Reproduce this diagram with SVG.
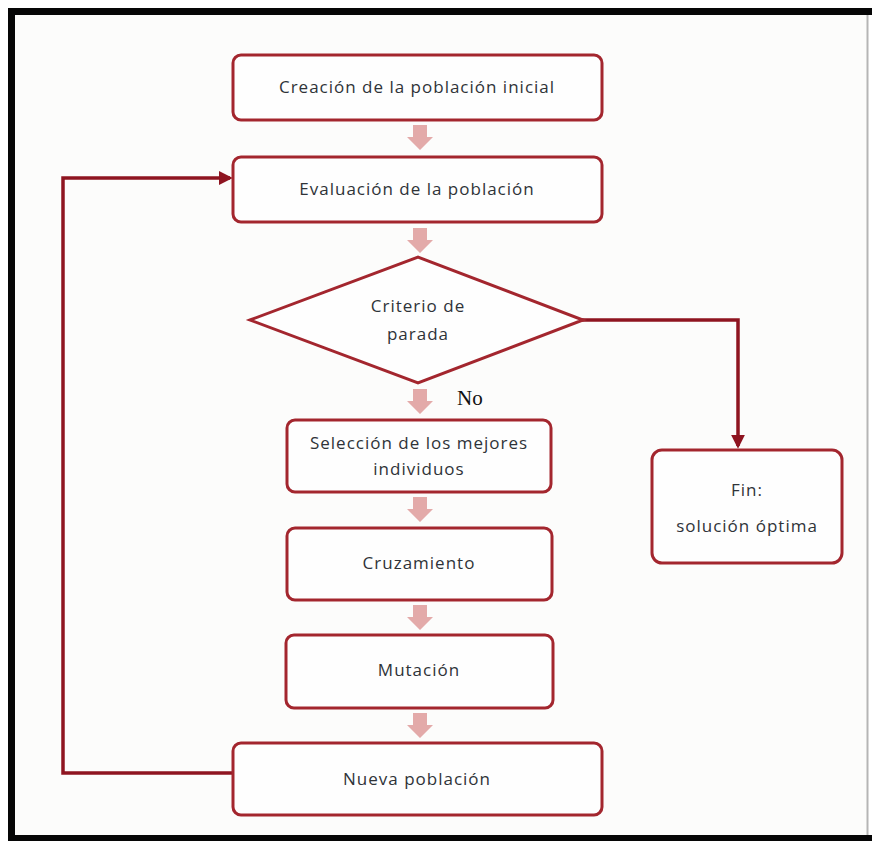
<svg xmlns="http://www.w3.org/2000/svg" width="872" height="841" viewBox="0 0 872 841">
  <defs>
    <style>
      .box { fill: #fefefe; stroke: #a3262e; stroke-width: 3; }
      .lbl { font-family: "Open Sans", "Noto Sans", "Liberation Sans", sans-serif; font-size: 17px; letter-spacing: 1px; fill: #2f3338; text-anchor: middle; }
      .flow { fill: #e3aaa9; }
      .wire { fill: none; stroke: #8e1420; stroke-width: 3.5; }
      .no { font-family: "Liberation Serif", serif; font-size: 21px; fill: #111; }
    </style>
    <marker id="tip" viewBox="0 0 10 10" refX="8" refY="5" markerWidth="4" markerHeight="4" orient="auto" markerUnits="strokeWidth">
      <path d="M0,0 L10,5 L0,10 Z" fill="#8e1420"/>
    </marker>
    <!-- block arrow between stacked steps, drawn at origin and shifted into place -->
    <path id="down" d="M-7,0 H7 V12 H13 L0,25 L-13,12 H-7 Z"/>
  </defs>

  <!-- page and frame -->
  <rect x="0" y="0" width="872" height="841" fill="#ffffff"/>
  <rect x="12" y="12" width="856" height="826" fill="#fcfcfb"/>
  <path d="M11.5,838 V11.5 H872" fill="none" stroke="#060606" stroke-width="7"/>
  <line x1="8" y1="838" x2="872" y2="838" stroke="#060606" stroke-width="6"/>
  <line x1="867.5" y1="15" x2="867.5" y2="835" stroke="#b5b5b5" stroke-width="2"/>

  <!-- connectors -->
  <g id="connectors">
    <g class="flow">
      <use href="#down" x="420" y="125"/>
      <use href="#down" x="420" y="228"/>
      <use href="#down" x="420" y="389"/>
      <use href="#down" x="420" y="497"/>
      <use href="#down" x="420" y="605"/>
      <use href="#down" x="420" y="713"/>
    </g>
    <polyline class="wire" points="580,320 738,320 738,446" marker-end="url(#tip)"/>
    <polyline class="wire" points="233,773 63,773 63,178 230,178" marker-end="url(#tip)"/>
    <text class="no" x="457" y="405">No</text>
  </g>

  <g id="inicio">
    <rect class="box" x="233" y="55" width="369" height="65" rx="8"/>
    <text class="lbl" x="417" y="93">Creación de la población inicial</text>
  </g>

  <g id="evaluacion">
    <rect class="box" x="233" y="157" width="369" height="65" rx="8"/>
    <text class="lbl" x="417" y="195">Evaluación de la población</text>
  </g>

  <g id="criterio">
    <polygon class="box" points="250,320 418,257 583,320 418,383" stroke="#a0111d"/>
    <text class="lbl" x="418" y="312" letter-spacing="0">Criterio de</text>
    <text class="lbl" x="418" y="340" letter-spacing="0">parada</text>
  </g>

  <g id="seleccion">
    <rect class="box" x="287" y="420" width="264" height="72" rx="8"/>
    <text class="lbl" x="419" y="449">Selección de los mejores</text>
    <text class="lbl" x="419" y="475">individuos</text>
  </g>

  <g id="cruzamiento">
    <rect class="box" x="287" y="528" width="265" height="72" rx="8"/>
    <text class="lbl" x="419" y="569">Cruzamiento</text>
  </g>

  <g id="mutacion">
    <rect class="box" x="286" y="635" width="267" height="73" rx="8"/>
    <text class="lbl" x="419" y="676">Mutación</text>
  </g>

  <g id="nueva">
    <rect class="box" x="233" y="743" width="369" height="72" rx="8"/>
    <text class="lbl" x="417" y="785">Nueva población</text>
  </g>

  <g id="fin">
    <rect class="box" x="652" y="450" width="190" height="113" rx="10"/>
    <text class="lbl" x="747" y="496">Fin:</text>
    <text class="lbl" x="747" y="532">solución óptima</text>
  </g>
</svg>
